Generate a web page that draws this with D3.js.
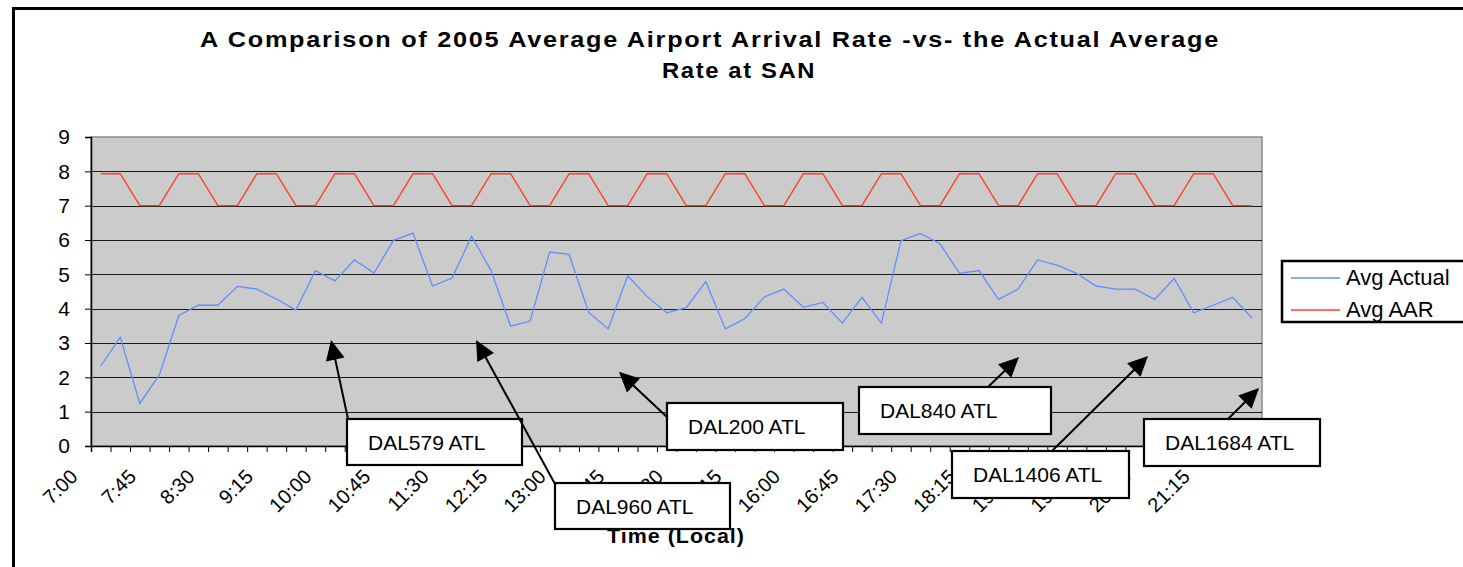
<!DOCTYPE html>
<html><head><meta charset="utf-8">
<script src="https://cdn.jsdelivr.net/npm/d3@7"></script>
<style>
body{margin:0;background:#fff;}
svg{display:block;font-family:Arial,"Liberation Sans",sans-serif;}
</style></head>
<body><svg id="chart" width="1463" height="567"></svg>
<script>
// ---- data ----
const times = (function(){const t=[];for(let h=7;h<22;h++){for(const m of ["00","15","30","45"]) t.push(h+":"+m);}return t;})();
const avgActual = [2.33,3.17,1.24,2.07,3.80,4.10,4.10,4.65,4.57,4.28,3.96,5.11,4.81,5.42,5.04,5.99,6.20,4.66,4.89,6.11,
                   5.11,3.49,3.64,5.65,5.58,3.89,3.41,4.96,4.35,3.88,4.03,4.79,3.41,3.71,4.34,4.57,4.04,4.18,3.58,4.33,
                   3.58,5.98,6.19,5.89,5.03,5.11,4.27,4.57,5.42,5.27,5.03,4.66,4.57,4.57,4.27,4.88,3.88,4.10,4.33,3.72];
const avgAAR = [7.93,7.93,7,7,7.93,7.93,7,7,7.93,7.93,7,7,7.93,7.93,7,7,7.93,7.93,7,7,
                7.93,7.93,7,7,7.93,7.93,7,7,7.93,7.93,7,7,7.93,7.93,7,7,7.93,7.93,7,7,
                7.93,7.93,7,7,7.93,7.93,7,7,7.93,7.93,7,7,7.93,7.93,7,7,7.93,7.93,7,7];
const yTicks = [0,1,2,3,4,5,6,7,8,9];
const xTickLabels = ["7:00","7:45","8:30","9:15","10:00","10:45","11:30","12:15","13:00","13:45",
                     "14:30","15:15","16:00","16:45","17:30","18:15","19:00","19:45","20:30","21:15"];
const seriesNames = ["Avg Actual","Avg AAR"];
const annotationLabels = ["DAL579 ATL","DAL960 ATL","DAL200 ATL","DAL840 ATL","DAL1406 ATL","DAL1684 ATL"];
// arrow tips: position on the category axis, value
const annotationTipPos = [12.30,19.73,27.05,47.55,54.16,59.85];
const annotationTipVal = [3.09,3.09,2.16,2.59,2.62,1.69];

// ---- layout ----
const W=1463,H=567;
const plot={left:91,right:1262,top:137,bottom:446};
const colors={actual:"#5F8FFF",aar:"#FF4020"};
// annotation boxes [x,y,w,h] and arrow start points
const boxes=[[347,419,175,46],[555,483,175,46],[667,403,176,47],[859,387,192,47],[952,451,177,47],[1144,419,176,47]];
const arrowStarts=[[348,419],[555,484],[668,418],[987,388],[1052,451],[1227,420]];

const svg=d3.select("#chart");
svg.append("rect").attr("width",W).attr("height",H).attr("fill","#fff");
// outer frame
svg.append("path").attr("d",`M13.5,${H+5} V8.5 H${W+5}`).attr("fill","none").attr("stroke","#000").attr("stroke-width",3);

const n=times.length;
const x=d3.scaleLinear().domain([0,n]).range([plot.left,plot.right]);
const y=d3.scaleLinear().domain([0,9]).range([plot.bottom,plot.top]);

// plot area
svg.append("rect").attr("x",plot.left).attr("y",plot.top).attr("width",plot.right-plot.left).attr("height",plot.bottom-plot.top)
  .attr("fill","#CBCBCB").attr("stroke","#8a8a8a").attr("stroke-width",1.5);

// grid
svg.append("g").selectAll("line").data(yTicks.filter(d=>d>0&&d<9)).join("line")
  .attr("x1",plot.left).attr("x2",plot.right).attr("y1",d=>Math.round(y(d))+0.5).attr("y2",d=>Math.round(y(d))+0.5)
  .attr("stroke","#1a1a1a").attr("stroke-width",1);

// y axis
const yAxis=svg.append("g").attr("transform",`translate(${plot.left},0)`)
  .call(d3.axisLeft(y).tickValues(yTicks).tickSize(6).tickPadding(15).tickFormat(d3.format("d")));
yAxis.select(".domain").attr("stroke","#000").attr("stroke-width",1.5);
yAxis.selectAll(".tick line").attr("stroke","#000");
yAxis.selectAll("text").attr("font-size",21).attr("fill","#000").attr("font-family","Arial,'Liberation Sans',sans-serif");

// x axis
const xAxis=svg.append("g").attr("transform",`translate(0,${plot.bottom})`)
  .call(d3.axisBottom(x).tickValues(d3.range(0,n+1)).tickSize(6).tickFormat(""));
xAxis.select(".domain").attr("stroke","#000").attr("stroke-width",1.5);
xAxis.selectAll(".tick line").attr("stroke","#000");

// x tick labels (every third category)
svg.append("g").selectAll("text").data(xTickLabels).join("text")
  .attr("transform",(d,i)=>`translate(${x(i*3+0.5)-22},${plot.bottom+32}) rotate(-45)`)
  .attr("text-anchor","end").attr("font-size",20).attr("fill","#000").text(d=>d);

// axis title
svg.append("text").attr("x",676).attr("y",543).attr("text-anchor","middle")
  .attr("font-size",21).attr("font-weight","bold").attr("letter-spacing","1px")
  .attr("textLength",138).attr("lengthAdjust","spacingAndGlyphs").text("Time (Local)");

// series lines
const line=d3.line().x((d,i)=>x(i+0.5)).y(d=>y(d));
svg.append("path").datum(avgAAR).attr("d",line).attr("fill","none").attr("stroke",colors.aar).attr("stroke-width",1.4);
svg.append("path").datum(avgActual).attr("d",line).attr("fill","none").attr("stroke",colors.actual).attr("stroke-width",1.3);

// title
svg.append("text").attr("x",710).attr("y",47).attr("text-anchor","middle").attr("font-size",22).attr("font-weight","bold")
  .attr("letter-spacing","1.5px").attr("textLength",1020).attr("lengthAdjust","spacingAndGlyphs")
  .text("A Comparison of 2005 Average Airport Arrival Rate -vs- the Actual Average");
svg.append("text").attr("x",739).attr("y",78).attr("text-anchor","middle").attr("font-size",22).attr("font-weight","bold")
  .attr("letter-spacing","1.5px").attr("textLength",154).attr("lengthAdjust","spacingAndGlyphs").text("Rate at SAN");

// legend
const lg=svg.append("g");
lg.append("rect").attr("x",1282).attr("y",261).attr("width",220).attr("height",61).attr("fill","#fff").attr("stroke","#000").attr("stroke-width",2.5);
const legendColors=[colors.actual,colors.aar];
seriesNames.forEach((s,i)=>{
  const yy=278+i*32;
  lg.append("line").attr("x1",1291).attr("x2",1340).attr("y1",yy).attr("y2",yy).attr("stroke",legendColors[i]).attr("stroke-width",1.3);
  lg.append("text").attr("x",1346).attr("y",yy+7).attr("font-size",22).attr("fill","#000").text(s);
});

// annotations
const ann=svg.append("g");
annotationLabels.forEach((lab,i)=>{
  const [bx,by,bw,bh]=boxes[i];
  const [sx,sy]=arrowStarts[i];
  const tx=x(annotationTipPos[i]), ty=y(annotationTipVal[i]);
  const dx=tx-sx, dy=ty-sy, len=Math.hypot(dx,dy), ux=dx/len, uy=dy/len;
  const hl=20, hw=9.5;
  const bxp=tx-ux*hl, byp=ty-uy*hl;
  ann.append("line").attr("x1",sx).attr("y1",sy).attr("x2",bxp+ux*2).attr("y2",byp+uy*2).attr("stroke","#000").attr("stroke-width",2);
  ann.append("path").attr("d",`M${tx},${ty} L${bxp-uy*hw},${byp+ux*hw} L${bxp+uy*hw},${byp-ux*hw} Z`).attr("fill","#000");
  ann.append("rect").attr("x",bx).attr("y",by).attr("width",bw).attr("height",bh).attr("fill","#fff").attr("stroke","#000").attr("stroke-width",2.2);
  ann.append("text").attr("x",bx+21).attr("y",by+31).attr("font-size",21).attr("fill","#000").text(lab);
});
</script>
</body></html>
